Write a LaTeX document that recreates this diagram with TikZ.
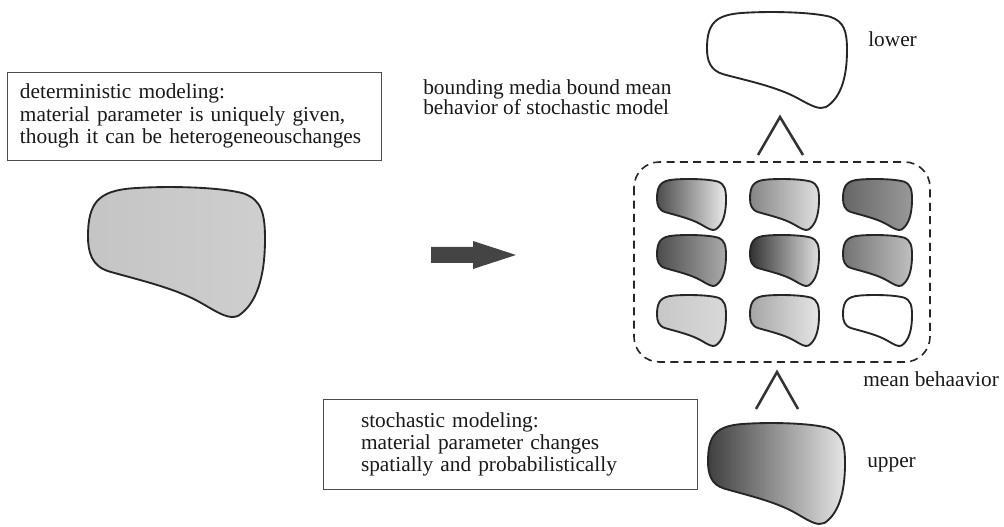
\documentclass[tikz,border=0pt]{standalone}
\usepackage{fontspec}
\setmainfont{Liberation Serif}
\begin{document}
\begin{tikzpicture}[x=0.75pt,y=-0.75pt,
  txt/.style={inner sep=0pt, text=black!90, font=\fontsize{16pt}{15pt}\selectfont},
  textbox/.style={draw=black!70, line width=0.6pt, align=left, inner ysep=0pt},
  blobline/.style={draw=black!85, line width=1.4pt, line join=round},
  caret/.style={draw=black!80, line width=1.9pt},
  dashbox/.style={draw=black!85, line width=1.2pt, dash pattern=on 6pt off 4pt, rounded corners=19pt}]
\newcommand\drawblob[6]{%
  \path[blobline, left color=#5, right color=#6, shift={(#1,#2)}, xscale=#3, yscale=#4]
    (0,0.38) .. controls (0,0.12) and (0.06,0.03) .. (0.25,0.01)
    .. controls (0.45,-0.01) and (0.75,0.0) .. (0.88,0.05)
    .. controls (0.98,0.1) and (1.0,0.2) .. (1.0,0.4)
    .. controls (1.0,0.7) and (0.95,0.9) .. (0.85,0.99)
    .. controls (0.8,1.02) and (0.75,0.98) .. (0.65,0.9)
    .. controls (0.5,0.78) and (0.3,0.72) .. (0.12,0.65)
    .. controls (0.02,0.61) and (0,0.5) .. cycle;}
\definecolor{arrowgray}{HTML}{444444}
\useasboundingbox (0,0) rectangle (1004,527);

% left text box
\node[txt, textbox, text width=261pt, inner xsep=9.75pt, minimum height=66pt,
      font=\fontsize{16pt}{17pt}\selectfont] (detbox) at (194,116)
  {deterministic modeling:\\material parameter is uniquely given,\\though it can be heterogeneouschanges};

% bottom text box
\node[txt, textbox, text width=223.5pt, inner xsep=28.5pt, minimum height=67.5pt,
      font=\fontsize{16pt}{16.5pt}\selectfont] (stobox) at (510,444)
  {stochastic modeling:\\material parameter changes\\spatially and probabilistically};

% top text
\node[txt, anchor=base west] (bnd1) at (423,95) {bounding media bound mean};
\node[txt, anchor=base west] (bnd2) at (423,115) {behavior of stochastic model};

% labels
\node[txt, anchor=base west] (lowerlbl) at (868,47) {lower};
\node[txt, anchor=base west] (meanlbl) at (863,387) {mean behaavior};
\node[txt, anchor=base west] (upperlbl) at (867,467) {upper};

% big left blob
\drawblob{88}{187}{177}{130}{black!23}{black!19}

% block arrow
\fill[arrowgray] (431,247) -- (473,247) -- (473,241) -- (516,255) -- (473,269) -- (473,263) -- (431,263) -- cycle;

% lower and upper blobs
\drawblob{707}{12}{140}{96}{white}{white}
\drawblob{708}{423}{137}{101}{black!75}{black!10}

% carets
\draw[caret] (758,155) -- (780,117) -- (803,155);
\draw[caret] (756,409) -- (777,372) -- (798,409);

% dashed box
\draw[dashbox] (634,162) rectangle (930,362);

% grid of small blobs
\drawblob{657}{179}{69}{51}{black!70}{black!8}
\drawblob{750}{179}{69}{51}{black!48}{black!12}
\drawblob{843}{179}{69}{51}{black!60}{black!40}
\drawblob{657}{235}{69}{51}{black!70}{black!33}
\drawblob{750}{235}{69}{51}{black!80}{black!12}
\drawblob{843}{235}{69}{51}{black!55}{black!25}
\drawblob{657}{295}{69}{51}{black!22}{black!15}
\drawblob{750}{295}{69}{51}{black!35}{black!10}
\drawblob{843}{295}{69}{51}{white}{white}
\end{tikzpicture}
\end{document}
